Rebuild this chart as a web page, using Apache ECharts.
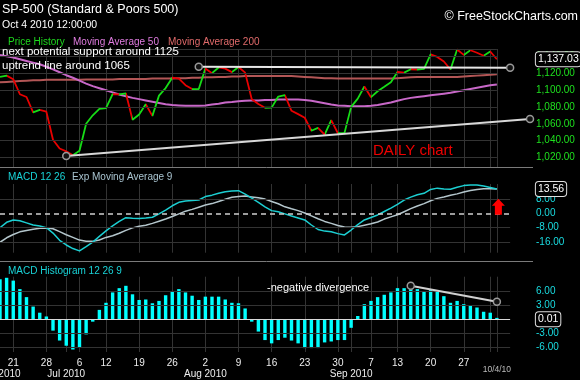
<!DOCTYPE html>
<html><head><meta charset="utf-8">
<script src="https://cdn.jsdelivr.net/npm/echarts@6/dist/echarts.min.js"></script>
<style>html,body{margin:0;padding:0;background:#000;}#c{width:580px;height:380px;}</style>
</head><body><div id="c"></div>
<script>
const dates = ['2010-06-17','2010-06-18','2010-06-21','2010-06-22','2010-06-23','2010-06-24','2010-06-25',
'2010-06-28','2010-06-29','2010-06-30','2010-07-01','2010-07-02',
'2010-07-06','2010-07-07','2010-07-08','2010-07-09',
'2010-07-12','2010-07-13','2010-07-14','2010-07-15','2010-07-16',
'2010-07-19','2010-07-20','2010-07-21','2010-07-22','2010-07-23',
'2010-07-26','2010-07-27','2010-07-28','2010-07-29','2010-07-30',
'2010-08-02','2010-08-03','2010-08-04','2010-08-05','2010-08-06',
'2010-08-09','2010-08-10','2010-08-11','2010-08-12','2010-08-13',
'2010-08-16','2010-08-17','2010-08-18','2010-08-19','2010-08-20',
'2010-08-23','2010-08-24','2010-08-25','2010-08-26','2010-08-27',
'2010-08-30','2010-08-31','2010-09-01','2010-09-02','2010-09-03',
'2010-09-07','2010-09-08','2010-09-09','2010-09-10',
'2010-09-13','2010-09-14','2010-09-15','2010-09-16','2010-09-17',
'2010-09-20','2010-09-21','2010-09-22','2010-09-23','2010-09-24',
'2010-09-27','2010-09-28','2010-09-29','2010-09-30','2010-10-01',
'2010-10-04'];

const price = [1116.04,1117.51,1113.20,1095.31,1092.04,1073.69,1076.76,
1074.57,1041.24,1030.71,1027.37,1022.58,
1028.06,1060.27,1070.25,1077.96,
1078.75,1095.34,1095.17,1096.48,1064.88,
1071.25,1083.48,1069.59,1093.67,1102.66,
1115.01,1113.84,1106.13,1101.53,1101.60,
1125.86,1120.46,1127.24,1125.81,1121.64,
1127.79,1121.06,1089.47,1083.61,1079.25,
1079.38,1092.54,1094.16,1075.63,1071.69,
1067.36,1051.87,1055.33,1047.22,1064.59,
1048.92,1049.33,1080.29,1090.10,1104.51,
1091.84,1098.87,1104.18,1109.55,
1121.90,1121.10,1125.07,1124.66,1125.59,
1142.71,1139.78,1134.28,1124.83,1148.67,
1142.16,1147.70,1144.73,1141.20,1146.24,
1137.03];

const ma50 = [1142,1140.5,1139,1137,1135,1133,1131,1128,1125,1121.5,
1118,1115,1111.5,1108,1105,1102.5,1100,1097.5,1095,1093,
1091,1089.5,1088,1086.5,1085,1083.5,1082.5,1082,1081.5,1081.5,
1081.5,1082,1083,1084,1085.5,1086,1087,1087.5,1088,1088,
1088.5,1088.5,1089,1089,1089,1089,1088.5,1087.5,1086,1084.5,
1083,1082,1081.5,1081,1081,1081,1081.5,1082.5,1084,1085.5,
1087.5,1089.5,1091,1092,1093,1094,1095,1096,1097,1098.5,
1100,1101.5,1103,1104.5,1106,1107];

const ma200 = [1109.5,1110,1110.5,1111,1111.5,1112,1112,1112.5,1112.5,1112.5,
1112.5,1112.5,1112.5,1113,1113,1113,1113,1113,1113.5,1113.5,
1113.5,1113.5,1113.5,1114,1114,1114,1114,1114.5,1114.5,1115,
1115,1115.5,1115.5,1116,1116,1116.5,1116.5,1117,1117,1117,
1117,1117,1117,1117,1117,1116.5,1116,1115.5,1115,1114.5,
1114.5,1114,1114,1114,1114,1114,1114,1114,1114,1114,
1114.5,1115,1115.5,1116,1116,1116,1116,1116,1116,1116,
1116.5,1117,1117.5,1118,1118.5,1119];

const macd = [-8.0,-5.0,-3.7,-4.1,-5.3,-6.5,-7.0,-8.0,-11.0,-15.0,
-17.6,-19.6,-20.9,-18.5,-16.0,-12.8,-9.8,-7.0,-4.5,-2.4,
-2.8,-2.9,-2.6,-2.2,-0.3,1.8,4.2,6.1,6.8,7.1,
7.4,9.3,10.1,11.2,12.0,12.4,12.6,10.7,8.4,6.1,
3.6,1.5,0.9,-0.3,-1.5,-2.6,-3.7,-6.5,-9.0,-9.9,
-10.2,-11.3,-12.0,-9.3,-6.3,-3.7,-2.3,-0.9,1.0,2.9,
5.0,7.4,9.0,10.3,11.1,13.3,14.0,13.5,13.4,14.5,
15.4,15.7,15.7,15.2,14.4,13.56];

const signal = [-16.1,-13.6,-11.8,-10.3,-9.5,-8.8,-8.3,-8.2,-8.6,-10.2,
-11.9,-13.4,-14.9,-15.5,-15.6,-14.8,-13.4,-12.5,-11.1,-9.5,
-8.1,-7.2,-6.6,-5.6,-4.4,-3.2,-1.8,-0.3,1.2,2.2,
3.4,4.6,5.4,6.6,7.8,8.9,9.4,9.6,9.1,8.6,
7.9,6.6,5.3,3.6,2.5,1.5,0.2,-1.4,-3.0,-4.5,
-5.6,-6.8,-7.6,-7.8,-7.4,-6.6,-5.8,-4.8,-3.2,-2.0,
-0.8,0.9,2.6,4.1,5.4,7.0,8.3,9.1,10.0,10.8,
11.9,12.7,13.3,13.6,13.6,13.56];

const hist = [8.5,8.8,8.2,6.4,4.7,2.7,1.4,0.6,-2.4,-4.5,
-5.6,-6.4,-6.0,-3.2,-0.5,2.0,3.5,5.7,6.6,7.1,
5.3,4.1,4.2,3.4,3.9,5.1,6.0,6.4,5.7,5.0,
4.1,4.8,4.8,4.8,4.2,3.5,3.4,2.3,-0.5,-2.6,
-4.4,-5.1,-4.4,-3.9,-4.5,-5.1,-6.1,-6.1,-6.1,-4.9,
-4.7,-4.4,-4.4,-1.8,0.7,3.2,3.9,4.7,5.2,5.7,
6.6,6.6,6.9,6.4,5.9,6.2,5.9,4.9,3.5,3.9,
3.2,3.0,2.5,1.6,1.4,0.3];

const priceTicks = [1020,1040,1060,1080,1100,1120,1140];
const macdTicks = [-16,-8,0,8];
const histTicks = [-6,-3,0,3,6];
const monthNames = {'06':'Jun 2010','07':'Jul 2010','08':'Aug 2010','09':'Sep 2010'};
const supportLine = [[30,1128.1],[77,1126.9]];
const uptrendLine = [[10,1021.8],[80,1065.8]];
const divergenceLine = [[62,7.1],[75,3.7]];
const lastPrice = 1137.03, lastMacd = 13.56, lastHist = 0.01;
const arrowAt = 3.6;

const cats = dates.concat(['+1','+2','+3','+4','+5']);
const N = dates.length;
const FONT = "'Liberation Sans', Arial, sans-serif";
const UP = '#16dc16', DOWN = '#e80000';
const GRIDC = '#333';

const dow = s => new Date(s + 'T00:00:00Z').getUTCDay();
const mon = i => dates[i].slice(5, 7);
const isWeekStart = i => i > 0 && i < N && dow(dates[i]) < dow(dates[i - 1]);
const isMonthStart = i => i < N && (i === 0 || mon(i) !== mon(i - 1));
const vgrid = i => i > 0 && i < N && (isWeekStart(i) || isMonthStart(i) || i === N - 1);
const fmtPrice = v => v.toLocaleString('en-US', {minimumFractionDigits: 2, maximumFractionDigits: 2});
const fmt2 = v => v.toFixed(2);

function xa(grid, extra) {
  return Object.assign({
    type: 'category', gridIndex: grid, data: cats, boundaryGap: false, position: 'bottom',
    axisLine: {show: false}, axisTick: {show: false}, axisLabel: {show: false},
    splitLine: {show: true, interval: (i) => vgrid(i), lineStyle: {color: GRIDC, width: 1}}
  }, extra || {});
}
function ya(grid, min, max, ticks, color, fmt) {
  return {
    type: 'value', gridIndex: grid, position: 'right', min: min, max: max, scale: true,
    axisLine: {show: false}, axisTick: {show: false, customValues: ticks}, splitLine: {show: false},
    axisLabel: {customValues: ticks, color: color, fontSize: 10, fontFamily: FONT, margin: 6, formatter: fmt}
  };
}
function gridLines(xi, yi, ticks, xEnd, special) {
  return {
    type: 'line', xAxisIndex: xi, yAxisIndex: yi, data: [], z: 1, silent: true,
    markLine: {
      silent: true, symbol: 'none', animation: false, label: {show: false},
      lineStyle: {color: GRIDC, width: 1, type: 'solid'},
      data: ticks.map(v => {
        const a = {coord: [0, v]}, b = {coord: [xEnd, v]};
        if (special && special[v]) a.lineStyle = special[v];
        return [a, b];
      })
    }
  };
}
function valueBox(text) {
  return {show: true, position: 'right', distance: 39, formatter: text, color: '#fff', fontSize: 10.5,
    fontFamily: FONT, backgroundColor: '#000', borderColor: '#e0e0e0', borderWidth: 1, borderRadius: 3,
    padding: [2, 2, 1, 2]};
}
function trend(xi, yi, pts, color) {
  return {type: 'line', xAxisIndex: xi, yAxisIndex: yi, data: pts, clip: false, z: 6, silent: true,
    symbol: 'circle', symbolSize: 7, showSymbol: true, showAllSymbol: true,
    lineStyle: {color: color, width: 2}, itemStyle: {color: '#111', borderColor: '#999', borderWidth: 1.5}};
}

const pieces = price.slice(1).map((v, i) => {
  const p = {gte: i, color: v >= price[i] ? UP : DOWN};
  if (i === price.length - 2) p.lte = i + 1; else p.lt = i + 1;
  return p;
});

const PMIN = 1008.7, PMAX = 1149.2;
const MMIN = -21.9, MMAX = 16.3;
const HMIN = -6.93, HMAX = 9.03;

const txt = (x, y, text, fill, size, align) => ({type: 'text', x: x, y: y, z: 100, silent: true,
  style: {text: text, fill: fill, font: size + 'px ' + FONT, textAlign: align || 'left', textVerticalAlign: 'middle'}});

const G = {outerBoundsMode: 'none', containLabel: false};
const option = {
  backgroundColor: '#000',
  animation: false,
  grid: [
    Object.assign({left: 0, top: 49, width: 530, height: 118}, G),
    Object.assign({left: 0, top: 184, width: 530, height: 68.7}, G),
    Object.assign({left: 0, top: 276.7, width: 530, height: 75.3}, G)
  ],
  xAxis: [
    xa(0), xa(1),
    xa(2, {axisLabel: {show: true, color: '#eee', fontSize: 10, fontFamily: FONT, margin: 6,
      interval: (i) => isWeekStart(i) || i === N - 1,
      formatter: (v, i) => {
        if (i === N - 1) { const p = v.split('-'); return '{s|' + (+p[1]) + '/' + (+p[2]) + '/' + p[0].slice(2) + '}'; }
        return String(+v.slice(8));
      },
      rich: {s: {fontSize: 8.5, color: '#bbb', fontFamily: FONT, padding: [7, 0, 0, 0]}}}}),
    xa(2, {splitLine: {show: false}, axisLabel: {show: true, color: '#eee', fontSize: 10, fontFamily: FONT, margin: 17,
      interval: (i) => isMonthStart(i) && !!monthNames[mon(i)],
      formatter: (v) => monthNames[v.slice(5, 7)] || ''}})
  ],
  yAxis: [
    ya(0, PMIN, PMAX, priceTicks, '#1ee01e', fmtPrice),
    ya(1, MMIN, MMAX, macdTicks, '#19dbe0', fmt2),
    ya(2, HMIN, HMAX, histTicks, '#19dbe0', fmt2)
  ],
  visualMap: {show: false, type: 'piecewise', dimension: 0, seriesIndex: 5, pieces: pieces},
  series: [
    gridLines(0, 0, priceTicks.concat([PMAX - 0.3]), N - 1),
    gridLines(1, 1, macdTicks, 77, {0: {color: '#cfcfcf', type: [5, 4], width: 1.5}}),
    gridLines(2, 2, histTicks, 77, {0: {color: '#d8d8d8', type: 'solid', width: 1}}),
    {type: 'line', name: 'Moving Average 200', xAxisIndex: 0, yAxisIndex: 0, data: ma200, symbol: 'none', z: 3,
      lineStyle: {color: '#b35656', width: 2}},
    {type: 'line', name: 'Moving Average 50', xAxisIndex: 0, yAxisIndex: 0, data: ma50, symbol: 'none', z: 3,
      lineStyle: {color: '#c868c8', width: 2}},
    {type: 'line', name: 'Price History', xAxisIndex: 0, yAxisIndex: 0, data: price, symbol: 'none', z: 4,
      lineStyle: {width: 1.8},
      markPoint: {symbol: 'circle', symbolSize: 0, silent: true, animation: false,
        data: [{coord: [N - 1, lastPrice], value: lastPrice}], label: valueBox(fmtPrice(lastPrice))}},
    trend(0, 0, supportLine, '#e6e6e6'),
    trend(0, 0, uptrendLine, '#d8d8d8'),
    {type: 'line', name: 'Exp Moving Average 9', xAxisIndex: 1, yAxisIndex: 1, data: signal, symbol: 'none', z: 3,
      lineStyle: {color: '#b4c6cc', width: 1.5}},
    {type: 'line', name: 'MACD 12 26', xAxisIndex: 1, yAxisIndex: 1, data: macd, symbol: 'none', z: 4,
      lineStyle: {color: '#1ccfd2', width: 1.5},
      markPoint: {silent: true, animation: false, data: [
        {coord: [N - 1, lastMacd], value: lastMacd, symbol: 'circle', symbolSize: 0, label: valueBox(fmt2(lastMacd))},
        {coord: [N - 1, arrowAt], symbol: 'path://M0,7 L6.5,0 L13,7 L10,7 L10,16 L3,16 L3,7 Z', symbolSize: [13, 16],
          symbolOffset: [1.5, 0], itemStyle: {color: '#ff0000'}, label: {show: false}}
      ]}},
    {type: 'bar', name: 'MACD Histogram 12 26 9', xAxisIndex: 2, yAxisIndex: 2, data: hist, barWidth: 3.4, z: 3,
      itemStyle: {color: '#00ffff'},
      markPoint: {symbol: 'circle', symbolSize: 0, silent: true, animation: false,
        data: [{coord: [N - 1, lastHist], value: lastHist}], label: valueBox(fmt2(lastHist))}},
    trend(2, 2, divergenceLine, '#d0d0d0')
  ],
  graphic: [
    txt(2, 10, 'SP-500 (Standard & Poors 500)', '#fff', 12.5),
    txt(2, 25, 'Oct 4 2010 12:00:00', '#fff', 10.5),
    txt(578, 17, '© FreeStockCharts.com', '#fff', 12.5, 'right'),
    txt(8, 42, 'Price History', '#1ed81e', 10),
    txt(73, 42, 'Moving Average 50', '#e07ce0', 10),
    txt(168, 42, 'Moving Average 200', '#e06a6a', 10),
    txt(2, 51.5, 'next potential support around 1125', '#fff', 11.5),
    txt(2, 66, 'uptrend line around 1065', '#fff', 11.5),
    txt(373, 151, 'DAILY chart', '#ee0000', 15),
    txt(8, 177, 'MACD 12 26', '#19d4d8', 10),
    txt(72, 177, 'Exp Moving Average 9', '#a9c4d0', 10),
    txt(8, 271, 'MACD Histogram 12 26 9', '#19d4d8', 10),
    txt(267, 288, '-negative divergence', '#fff', 11),
    {type: 'line', z: 50, silent: true, shape: {x1: 0, y1: 167.5, x2: 533, y2: 167.5}, style: {stroke: '#7a7a7a', lineWidth: 1}},
    {type: 'line', z: 50, silent: true, shape: {x1: 0, y1: 261.5, x2: 533, y2: 261.5}, style: {stroke: '#7a7a7a', lineWidth: 1}}
  ]
};
const chart = echarts.init(document.getElementById('c'), null, {renderer: 'canvas'});
chart.setOption(option);
</script></body></html>
